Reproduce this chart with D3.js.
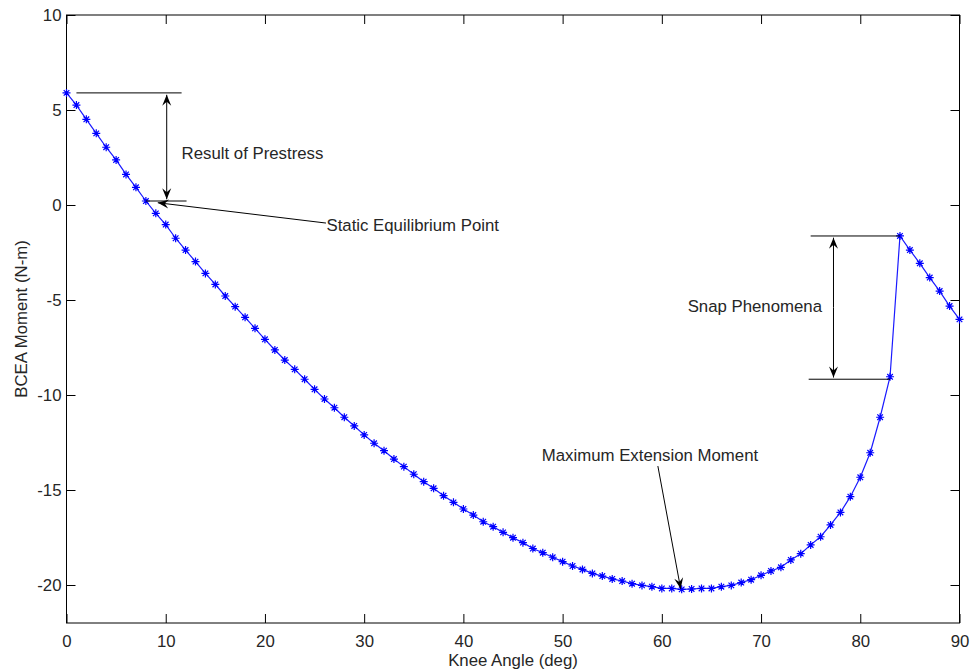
<!DOCTYPE html>
<html>
<head>
<meta charset="utf-8">
<script src="https://cdn.jsdelivr.net/npm/d3@7/dist/d3.min.js"></script>
<style>
html,body{margin:0;padding:0;background:#fff;}
svg text{font-family:"Liberation Sans",Arial,sans-serif;}
</style>
</head>
<body>
<svg id="chart" width="971" height="671"></svg>
<script>
// ---- data ----
const kneeAngle = d3.range(0, 91); // 0..90 deg
const moment = [
  5.9, 5.26, 4.51, 3.77, 3.04, 2.37, 1.61, 0.93, 0.21, -0.44,
  -1.03, -1.75, -2.37, -2.98, -3.6, -4.18, -4.79, -5.35, -5.91, -6.49,
  -7.07, -7.63, -8.16, -8.65, -9.17, -9.7, -10.21, -10.67, -11.17, -11.63,
  -12.1, -12.54, -12.93, -13.37, -13.77, -14.17, -14.56, -14.91, -15.3, -15.65,
  -16.0, -16.32, -16.67, -16.93, -17.23, -17.51, -17.77, -18.08, -18.3, -18.54,
  -18.77, -19.0, -19.18, -19.39, -19.53, -19.68, -19.79, -19.93, -20.02, -20.09,
  -20.18, -20.18, -20.23, -20.21, -20.18, -20.18, -20.09, -20.02, -19.87, -19.72,
  -19.49, -19.26, -19.07, -18.68, -18.35, -17.89, -17.46, -16.84, -16.18, -15.35,
  -14.33, -13.04, -11.17, -9.04, -1.63, -2.37, -3.07, -3.82, -4.53, -5.32,
  -6.02
];
const xTicks = [0, 10, 20, 30, 40, 50, 60, 70, 80, 90];
const yTicks = [-20, -15, -10, -5, 0, 5, 10];
const xLabel = "Knee Angle (deg)";
const yLabel = "BCEA Moment (N-m)";

// annotations in data coordinates
const annoLines = [
  {x1: 1.0, y1: 5.9, x2: 11.6, y2: 5.9},
  {x1: 8.0, y1: 0.21, x2: 12.1, y2: 0.21},
  {x1: 75.0, y1: -1.63, x2: 84.0, y2: -1.63},
  {x1: 74.8, y1: -9.17, x2: 83.0, y2: -9.17}
];
const annoArrows = [
  {x1: 10.1, y1: 3.0, x2: 10.1, y2: 5.8},
  {x1: 10.1, y1: 3.0, x2: 10.1, y2: 0.3},
  {x1: 26.15, y1: -0.95, x2: 9.2, y2: 0.12},
  {x1: 59.6, y1: -13.74, x2: 61.9, y2: -20.2},
  {x1: 77.3, y1: -5.4, x2: 77.3, y2: -1.72},
  {x1: 77.3, y1: -5.4, x2: 77.3, y2: -9.08}
];
const annoTexts = [
  {x: 11.6, y: 2.75, text: "Result of Prestress"},
  {x: 26.2, y: -1.07, text: "Static Equilibrium Point"},
  {x: 47.9, y: -13.16, text: "Maximum Extension Moment"},
  {x: 62.6, y: -5.3, text: "Snap Phenomena"}
];

// ---- layout ----
const mLeft = 66.5, mRight = 959.5, mTop = 15, mBottom = 623;
const fs = "16.8px";
const svg = d3.select("#chart");
const x = d3.scaleLinear().domain([0, 90]).range([mLeft, mRight]);
const y = d3.scaleLinear().domain([-22, 10]).range([mBottom, mTop]);
const textColor = "#262626";

// arrow marker
svg.append("defs").append("marker")
  .attr("id", "ah")
  .attr("viewBox", "-12 -6 14 12")
  .attr("markerWidth", 14).attr("markerHeight", 12)
  .attr("markerUnits", "userSpaceOnUse")
  .attr("refX", 0).attr("refY", 0)
  .attr("orient", "auto")
  .append("path")
  .attr("d", "M0,0 L-11,-4.5 L-7,0 L-11,4.5 Z")
  .attr("fill", "#000");

// axes with inward ticks
const tickLen = 9;
const fmt = d => String(d);
const axB = d3.axisBottom(x).tickValues(xTicks).tickFormat(fmt).tickSizeInner(-tickLen).tickSizeOuter(0).tickPadding(12);
const axT = d3.axisTop(x).tickValues(xTicks).tickSizeInner(-tickLen).tickSizeOuter(0).tickFormat("");
const axL = d3.axisLeft(y).tickValues(yTicks).tickFormat(fmt).tickSizeInner(-tickLen).tickSizeOuter(0).tickPadding(5);
const axR = d3.axisRight(y).tickValues(yTicks).tickSizeInner(-tickLen).tickSizeOuter(0).tickFormat("");

function styleAxis(g) {
  g.select(".domain").remove();
  g.selectAll(".tick line").attr("stroke", "#000").attr("stroke-width", 1);
  g.selectAll(".tick text").attr("fill", textColor).style("font-size", fs)
    .style("font-family", "'Liberation Sans', Arial, sans-serif");
}
svg.append("g").attr("transform", `translate(0,${mBottom})`).call(axB).call(styleAxis);
svg.append("g").attr("transform", `translate(0,${mTop})`).call(axT).call(styleAxis);
svg.append("g").attr("transform", `translate(${mLeft},0)`).call(axL).call(styleAxis);
svg.append("g").attr("transform", `translate(${mRight},0)`).call(axR).call(styleAxis);

// box
svg.append("rect")
  .attr("x", mLeft).attr("y", mTop)
  .attr("width", mRight - mLeft).attr("height", mBottom - mTop)
  .attr("fill", "none").attr("stroke", "#000").attr("stroke-width", 1);

// data line
const pts = kneeAngle.map((a, i) => [a, moment[i]]);
svg.append("path")
  .datum(pts)
  .attr("fill", "none")
  .attr("stroke", "#1a1aff")
  .attr("stroke-width", 1.2)
  .attr("d", d3.line().x(d => x(d[0])).y(d => y(d[1])));

// star markers
const r = 4;
const starPath = `M${-r},0L${r},0M0,${-r}L0,${r}M${-r*0.7},${-r*0.7}L${r*0.7},${r*0.7}M${-r*0.7},${r*0.7}L${r*0.7},${-r*0.7}`;
svg.append("g").selectAll("path").data(pts).join("path")
  .attr("transform", d => `translate(${x(d[0])},${y(d[1])})`)
  .attr("d", starPath)
  .attr("stroke", "#0000ff")
  .attr("stroke-width", 1.2)
  .attr("fill", "none");

// annotations
const ag = svg.append("g");
ag.selectAll("line.al").data(annoLines).join("line")
  .attr("class", "al")
  .attr("x1", d => x(d.x1)).attr("y1", d => y(d.y1))
  .attr("x2", d => x(d.x2)).attr("y2", d => y(d.y2))
  .attr("stroke", "#000").attr("stroke-width", 1);
ag.selectAll("line.aa").data(annoArrows).join("line")
  .attr("class", "aa")
  .attr("x1", d => x(d.x1)).attr("y1", d => y(d.y1))
  .attr("x2", d => x(d.x2)).attr("y2", d => y(d.y2))
  .attr("stroke", "#000").attr("stroke-width", 1)
  .attr("marker-end", "url(#ah)");
ag.selectAll("text").data(annoTexts).join("text")
  .attr("x", d => x(d.x)).attr("y", d => y(d.y))
  .attr("dy", "0.35em")
  .attr("fill", textColor)
  .style("font-size", fs)
  .text(d => d.text);

// axis labels
svg.append("text")
  .attr("x", (mLeft + mRight) / 2).attr("y", 666)
  .attr("text-anchor", "middle")
  .attr("fill", textColor).style("font-size", fs)
  .text(xLabel);
svg.append("text")
  .attr("transform", `translate(27,${(mTop + mBottom) / 2}) rotate(-90)`)
  .attr("text-anchor", "middle")
  .attr("fill", textColor).style("font-size", fs)
  .text(yLabel);
</script>
</body>
</html>
